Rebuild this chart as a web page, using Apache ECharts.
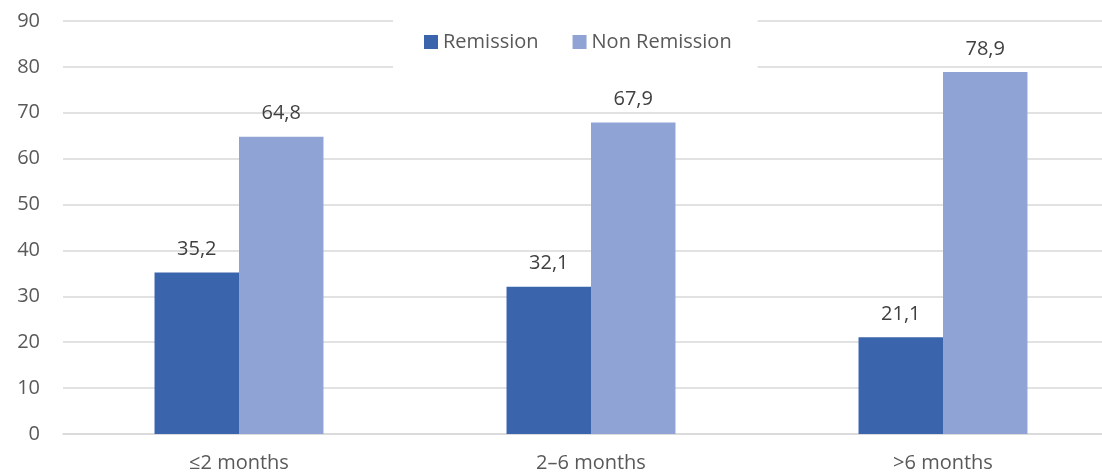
<!DOCTYPE html>
<html>
<head>
<meta charset="utf-8">
<script src="https://cdn.jsdelivr.net/npm/echarts@6/dist/echarts.min.js"></script>
<style>
  html, body { margin: 0; padding: 0; background: #fff; }
  #chart { width: 1102px; height: 475px; }
</style>
</head>
<body>
<div id="chart"></div>
<script>
// Remission outcome by time-to-treatment group (percent)
const categories = ['≤2 months', '2–6 months', '>6 months'];
const remission = [35.2, 32.1, 21.1];
const nonRemission = [64.8, 67.9, 78.9];
const seriesNames = ['Remission', 'Non Remission'];

const FONT = 'Open Sans';
const TEXT = '#595959';
const SIZE = 20;

const commaDecimal = p => String(p.value).replace('.', ',');

const chart = echarts.init(document.getElementById('chart'), null, { renderer: 'canvas' });
chart.setOption({
  animation: false,
  backgroundColor: '#ffffff',
  textStyle: { fontFamily: FONT },
  // the plot runs past the right edge of the canvas, so the last group is cut short
  grid: { left: 63, width: 1056, top: 21, bottom: 41, outerBoundsMode: 'none', containLabel: false },
  legend: {
    data: seriesNames,
    top: 12,
    left: 393,
    backgroundColor: '#ffffff',
    padding: [20, 26, 20, 31],
    itemGap: 34,
    itemWidth: 14,
    itemHeight: 14,
    icon: 'rect',
    z: 10,
    textStyle: { color: TEXT, fontSize: SIZE, fontFamily: FONT, lineHeight: 20 }
  },
  xAxis: {
    type: 'category',
    data: categories,
    axisTick: { show: false },
    axisLine: { lineStyle: { color: '#d9d9d9', width: 1.5 } },
    axisLabel: { color: TEXT, fontSize: SIZE, fontFamily: FONT, margin: 19 }
  },
  yAxis: {
    type: 'value',
    min: 0,
    max: 90,
    interval: 10,
    axisLine: { show: false },
    axisTick: { show: false },
    splitLine: { lineStyle: { color: '#d9d9d9', width: 1.5 } },
    axisLabel: { color: TEXT, fontSize: SIZE, fontFamily: FONT, margin: 23 }
  },
  series: [
    {
      name: seriesNames[0],
      type: 'bar',
      data: remission,
      barGap: '0%',
      barCategoryGap: '52%',
      itemStyle: { color: '#3a64ac' },
      label: { show: true, position: 'top', distance: 13, color: '#404040', fontSize: SIZE, fontFamily: FONT, formatter: commaDecimal }
    },
    {
      name: seriesNames[1],
      type: 'bar',
      data: nonRemission,
      itemStyle: { color: '#8fa4d4' },
      label: { show: true, position: 'top', distance: 13, color: '#404040', fontSize: SIZE, fontFamily: FONT, formatter: commaDecimal }
    }
  ]
});
</script>
</body>
</html>
